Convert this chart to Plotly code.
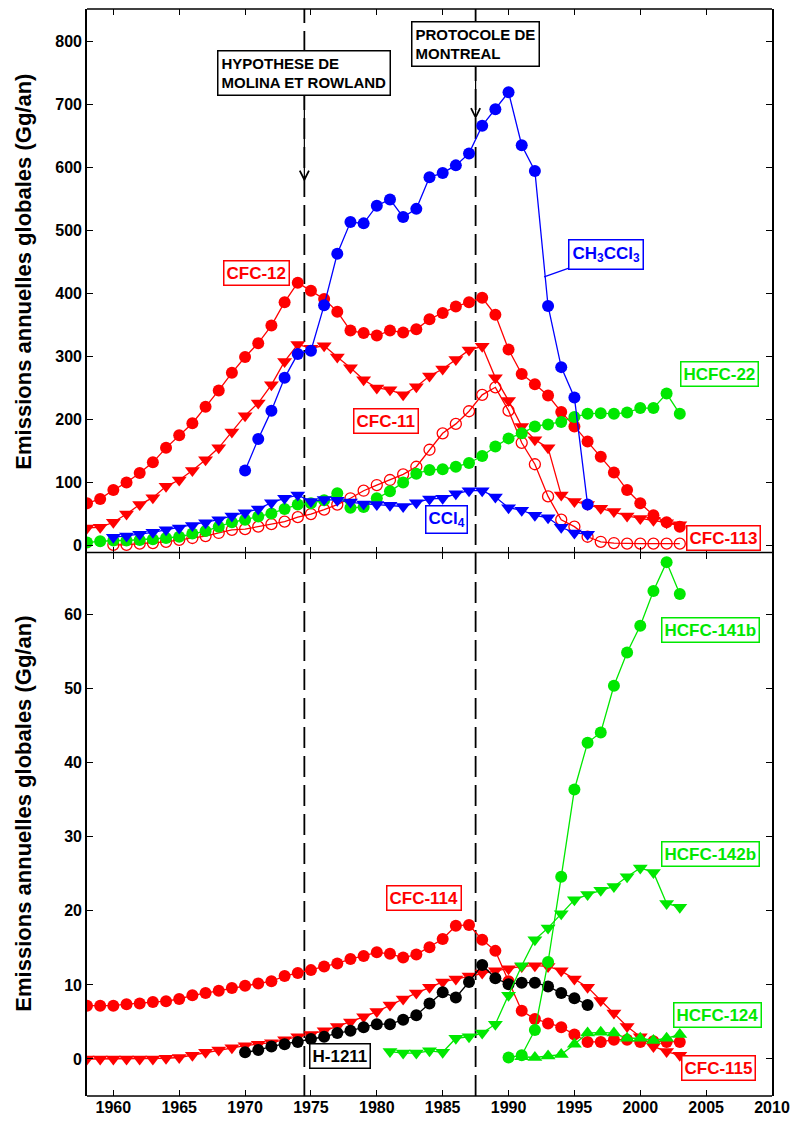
import plotly.graph_objects as go

# ---------------- data (Gg/an) ----------------
years_cfc12 = list(range(1958, 2004))
cfc12 = [67, 74, 88, 100, 115, 132, 155, 175, 194, 220,
         246, 274, 299, 321, 349, 386, 417, 404, 391, 371,
         341, 337, 333, 341, 338, 343, 359, 369, 379, 386,
         393, 366, 311, 272, 256, 238, 212, 189, 165, 141,
         116, 88, 67, 48, 37, 30]

years_cfc11 = list(range(1958, 2004))
cfc11 = [28, 29, 37, 50, 65, 76, 94, 104, 119, 136,
         155, 180, 206, 226, 255, 292, 319, 313, 317, 299,
         282, 263, 250, 247, 239, 252, 269, 280, 295, 310,
         316, 266, 230, 189, 168, 155, 80, 70, 65, 59,
         54, 47, 43, 40, 36, 33]

years_cfc113 = list(range(1960, 2004))
cfc113 = [1, 1, 3, 4, 6, 9, 12, 15,
          20, 25, 26, 30, 34, 38, 45, 50, 57, 65,
          75, 87, 96, 104, 113, 125, 152, 178, 193, 213,
          239, 251, 214, 163, 129, 78, 41, 30, 14, 6,
          4, 3, 3, 3, 3, 3]

years_hcfc22 = list(range(1958, 2004))
hcfc22 = [5, 7, 8, 8, 9, 10, 12, 14, 19, 23,
          30, 37, 41, 46, 51, 58, 65, 67, 72, 83,
          60, 61, 75, 86, 100, 114, 120, 121, 125, 131,
          142, 157, 170, 178, 189, 192, 196, 204, 209, 210,
          209, 211, 218, 218, 241, 209]

years_ccl4 = list(range(1960, 1997))
ccl4 = [13, 15, 18, 21, 25, 28, 32, 36,
        41, 47, 52, 58, 68, 75, 80, 70, 73, 72,
        69, 66, 65, 64, 62, 68, 74, 75, 82, 87,
        87, 77, 60, 56, 48, 44, 29, 20, 18]

years_ch3ccl3 = list(range(1970, 1997))
ch3ccl3 = [119, 169, 214, 266, 304, 309, 381, 463,
           513, 511, 539, 549, 521, 534, 584, 591, 603, 622,
           666, 692, 719, 635, 594, 380, 283, 235, 65]

years_cfc114 = list(range(1958, 2004))
cfc114 = [7.2, 7.2, 7.2, 7.4, 7.5, 7.7, 7.8, 8.1, 8.6, 8.9,
          9.2, 9.6, 9.9, 10.2, 10.5, 11.2, 11.6, 12.0, 12.5, 12.9,
          13.5, 13.9, 14.4, 14.2, 13.7, 14.1, 15.1, 16.2, 18.0, 18.1,
          16.1, 14.6, 10.5, 6.5, 5.4, 4.8, 4.3, 3.3, 2.3, 2.3,
          2.6, 2.6, 2.3, 2.4, 2.3, 2.3]

years_cfc115 = list(range(1958, 2004))
cfc115 = [0, 0, 0, 0, 0, 0, 0.1, 0.2, 0.5, 0.9,
          1.2, 1.5, 1.8, 2.0, 2.2, 2.6, 3.0, 3.3, 3.8, 4.4,
          5.0, 5.7, 6.4, 7.3, 8.1, 8.9, 9.7, 10.4, 10.8, 11.2,
          11.6, 11.9, 12.2, 12.5, 12.6, 12.5, 11.9, 10.8, 9.7, 7.9,
          6.2, 4.4, 3.0, 1.7, 1.0, 0.5]

years_h1211 = list(range(1970, 1997))
h1211 = [0.9, 1.2, 1.7, 2.0, 2.3, 2.7, 3.0, 3.5, 3.8, 4.3,
         4.7, 4.7, 5.3, 5.9, 7.5, 9.0, 8.3, 10.4, 12.7, 10.9,
         10.1, 10.3, 10.3, 9.8, 8.9, 8.2, 7.3]

years_hcfc142b = list(range(1981, 2004))
hcfc142b = [1.0, 0.8, 0.8, 1.1, 0.9, 2.8, 3.0, 3.5, 4.7, 8.6,
            12.6, 16.1, 17.7, 19.6, 21.5, 22.2, 22.8, 23.3, 24.6, 25.8,
            25.2, 21.0, 20.5]

years_hcfc141b = list(range(1990, 2004))
hcfc141b = [0.2, 0.5, 3.9, 13.1, 24.6, 36.4, 42.7, 44.1, 50.4, 54.9,
            58.5, 63.2, 67.1, 62.8]

years_hcfc124 = list(range(1991, 2004))
hcfc124 = [0.3, 0.2, 0.4, 0.6, 2.0, 3.5, 3.6, 3.5, 2.8, 2.8,
           2.5, 2.8, 3.3]

year_ticks = list(range(1960, 2011, 5))
event_years = [1974.5, 1987.5]

# ---------------- style ----------------
RED = "#ff0000"
BLUE = "#0000ff"
GREEN = "#00e800"
BLACK = "#000000"
FONT = "Liberation Sans, Arial, sans-serif"

fig = go.Figure()


def add_series(x, y, color, symbol, yaxis, size=12, open_marker=False):
    marker = dict(symbol=symbol, size=size, color=color, line=dict(width=0))
    if open_marker:
        marker = dict(symbol="circle-open", size=size - 1, color=color,
                      line=dict(width=1.3, color=color))
    fig.add_trace(go.Scatter(
        x=x, y=y, mode="lines+markers", xaxis="x2" if yaxis == "y2" else "x",
        yaxis=yaxis, line=dict(color=color, width=1.3), marker=marker,
        showlegend=False, hoverinfo="x+y"))


# top panel
add_series(years_cfc12, cfc12, RED, "circle", "y2")
add_series(years_cfc11, cfc11, RED, "triangle-down", "y2", size=13)
add_series(years_cfc113, cfc113, RED, "circle", "y2", size=12, open_marker=True)
add_series(years_hcfc22, hcfc22, GREEN, "circle", "y2")
add_series(years_ccl4, ccl4, BLUE, "triangle-down", "y2", size=13)
add_series(years_ch3ccl3, ch3ccl3, BLUE, "circle", "y2")

# bottom panel
add_series(years_cfc114, cfc114, RED, "circle", "y")
add_series(years_cfc115, cfc115, RED, "triangle-down", "y", size=13)
add_series(years_h1211, h1211, BLACK, "circle", "y")
add_series(years_hcfc142b, hcfc142b, GREEN, "triangle-down", "y", size=13)
add_series(years_hcfc141b, hcfc141b, GREEN, "circle", "y")
add_series(years_hcfc124, hcfc124, GREEN, "triangle-up", "y", size=13)

# dashed event lines through both panels
for ey in event_years:
    fig.add_shape(type="line", xref="x", yref="paper", x0=ey, x1=ey, y0=0, y1=1,
                  line=dict(color=BLACK, width=1.8, dash="21px,8px"), layer="below")

# horizontal frame: top, shared middle divider, bottom (one stroke each)
for fy in (0, 0.5, 1):
    fig.add_shape(type="line", xref="paper", yref="paper", x0=0, x1=1, y0=fy, y1=fy,
                  line=dict(color=BLACK, width=1.6), layer="above")

# event boxes, each with an arrow pointing down to its year
event_boxes = [
    dict(text="HYPOTHESE DE<br>MOLINA ET ROWLAND", year=1974.5, box_y=749, head=577),
    dict(text="PROTOCOLE DE<br>MONTREAL", year=1987.5, box_y=795, head=676),
]
for eb in event_boxes:
    fig.add_annotation(x=eb["year"], y=eb["head"], xref="x2", yref="y2",
                       ax=eb["year"], ay=eb["box_y"], axref="x2", ayref="y2",
                       text="<b>" + eb["text"] + "</b>", align="left",
                       showarrow=True, arrowhead=5, arrowsize=1.5,
                       arrowwidth=1.2, arrowcolor=BLACK, standoff=0,
                       font=dict(family=FONT, size=15, color=BLACK),
                       bgcolor="white", bordercolor=BLACK, borderwidth=1.5,
                       borderpad=3)

# species labels
labels = [
    ("CFC-12", RED, 1968.32, 453, "y2"),
    ("CFC-11", RED, 1978.16, 218, "y2"),
    ("CCl<sub>4</sub>", BLUE, 1983.68, 64.6, "y2"),
    ("HCFC-22", GREEN, 2002.98, 292, "y2"),
    ("CFC-113", RED, 2003.49, 33, "y2"),
    ("CFC-114", RED, 1980.68, 23.5, "y"),
    ("H-1211", BLACK, 1974.84, 2.1, "y"),
    ("HCFC-124", GREEN, 2002.48, 7.7, "y"),
    ("CFC-115", RED, 2003.11, 0.55, "y"),
    ("HCFC-141b", GREEN, 2001.61, 59.7, "y"),
    ("HCFC-142b", GREEN, 2001.56, 29.4, "y"),
]
for txt, col, lx, ly, yax in labels:
    fig.add_annotation(x=lx, y=ly, xref="x2" if yax == "y2" else "x", yref=yax,
                       xanchor="left", yanchor="top", text="<b>" + txt + "</b>",
                       showarrow=False, font=dict(family=FONT, size=17, color=col),
                       bgcolor="white", bordercolor=col, borderwidth=1.5, borderpad=2)

# CH3CCl3 label with leader line to its curve
fig.add_annotation(x=1992.7, y=426, xref="x2", yref="y2",
                   ax=62, ay=-22, axref="pixel", ayref="pixel",
                   text="<b>CH<sub>3</sub>CCl<sub>3</sub></b>", showarrow=True,
                   arrowhead=0, arrowwidth=1.3, arrowcolor=BLUE, standoff=0,
                   font=dict(family=FONT, size=17, color=BLUE),
                   bgcolor="white", bordercolor=BLUE, borderwidth=1.5, borderpad=3)

# y-axis titles
for ypos in (0.758, 0.2594):
    fig.add_annotation(x=-0.094, y=ypos, xref="paper", yref="paper",
                       text="<b>Emissions annuelles globales (Gg/an)</b>",
                       textangle=-90, showarrow=False, xanchor="center", yanchor="middle",
                       font=dict(family=FONT, size=22, color=BLACK))

tick_style = dict(ticks="inside", ticklen=6, tickwidth=1.3, tickcolor=BLACK,
                  showgrid=False, zeroline=False,
                  tickfont=dict(family=FONT, size=16, color=BLACK))
x_style = dict(showline=False, mirror="allticks", **tick_style)
y_style = dict(showline=True, linecolor=BLACK, linewidth=1.6, mirror="allticks",
               **tick_style)

fig.update_layout(
    width=799, height=1129,
    margin=dict(l=87, r=22, t=9, b=33),
    paper_bgcolor="white", plot_bgcolor="white",
    font=dict(family=FONT),
    xaxis=dict(domain=[0, 1], anchor="y", range=[1958, 2010], tickvals=year_ticks,
               ticktext=["<b>%d</b>" % t for t in year_ticks], **x_style),
    xaxis2=dict(domain=[0, 1], anchor="y2", matches="x", range=[1958, 2010],
                tickvals=year_ticks, showticklabels=False, **x_style),
    yaxis=dict(domain=[0, 0.5], anchor="x", range=[-5, 68.4],
               tickvals=list(range(0, 61, 10)),
               ticktext=["<b>%d</b>" % t for t in range(0, 61, 10)], **y_style),
    yaxis2=dict(domain=[0.5, 1], anchor="x2", range=[-11, 851],
                tickvals=list(range(0, 801, 100)),
                ticktext=["<b>%d</b>" % t for t in range(0, 801, 100)], **y_style),
)

fig.write_html("out.html")
